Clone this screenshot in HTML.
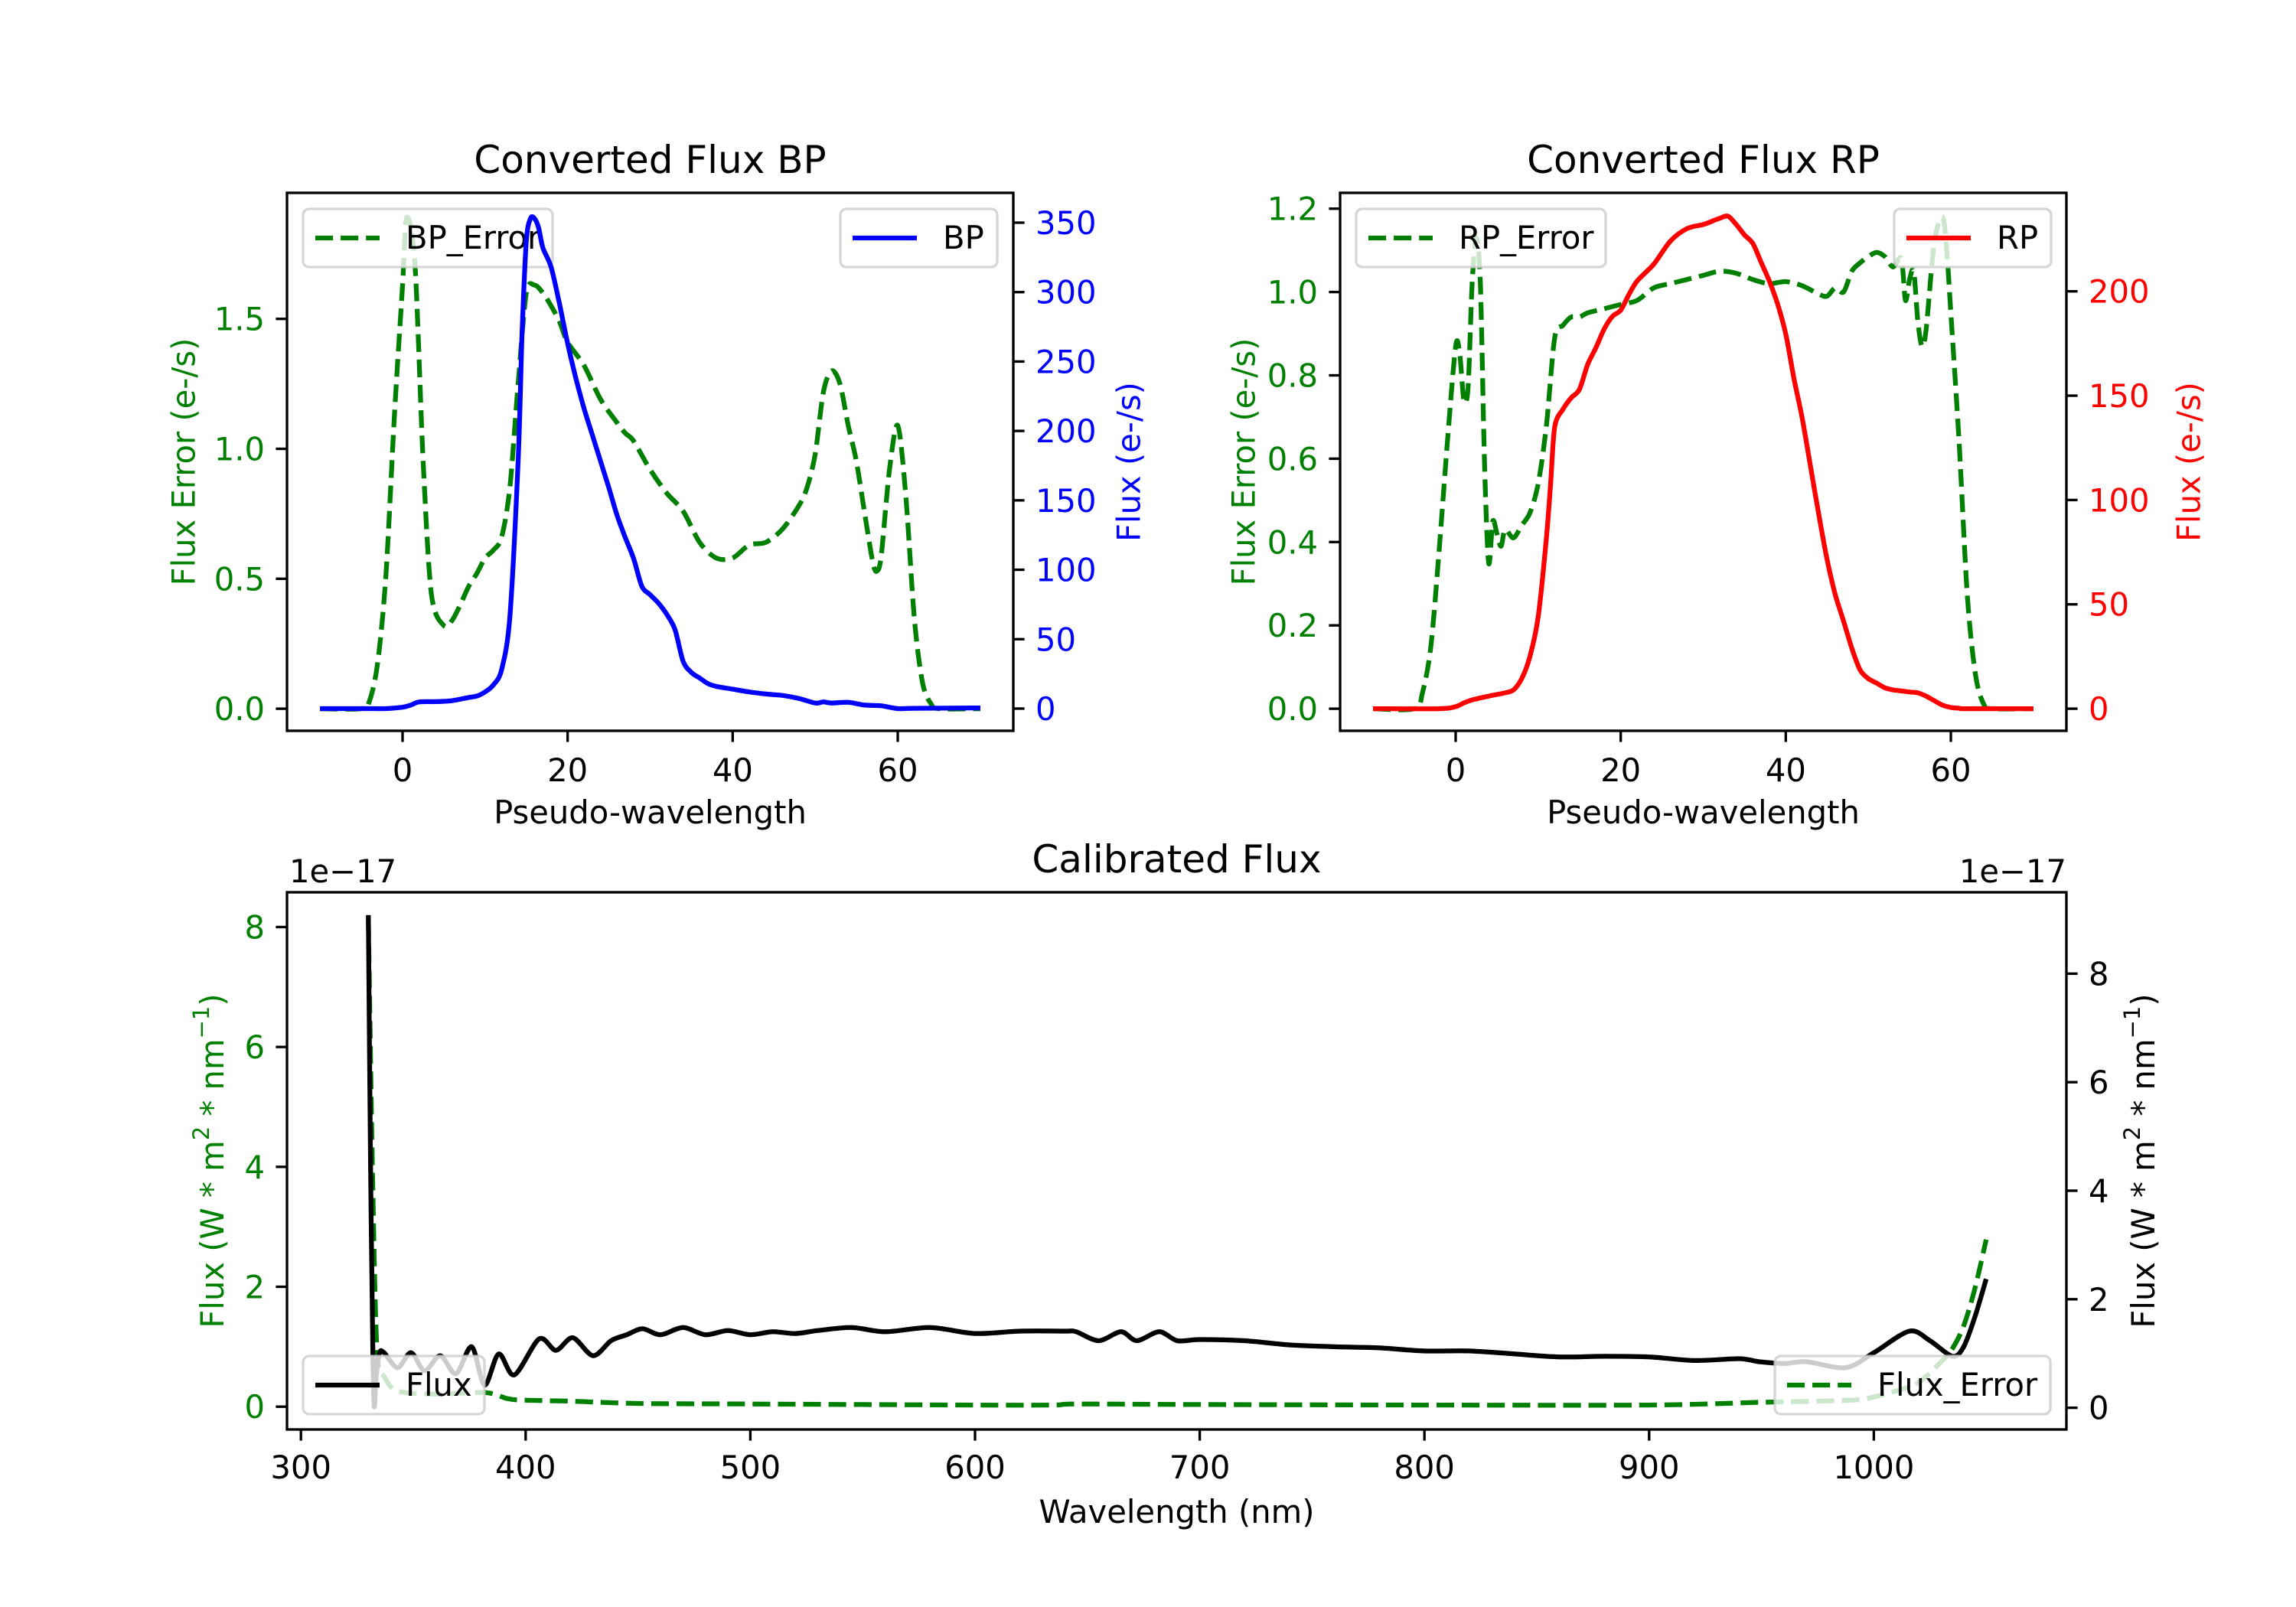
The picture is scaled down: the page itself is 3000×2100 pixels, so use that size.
<!DOCTYPE html>
<html><head><meta charset="utf-8"><style>
html,body{margin:0;padding:0;background:#fff;}
svg{display:block;font-family:"DejaVu Sans","Liberation Sans",sans-serif;}
</style></head><body>
<svg id="fig" xmlns="http://www.w3.org/2000/svg" width="3000" height="2100" viewBox="0 0 3000 2100">
<rect x="0" y="0" width="3000" height="2100" fill="#fff"/>
</svg>
<script>
// ---- BP panel data ----
const BP_ERR_X=[-10,-5,-4,-3,-2,-1,0,0.5,1.5,2.5,3.5,5,6,7,8,9,10,11,12,13,14,15,16,17,18,19,20,22,24,26,27,28,30,32,34,36,38,40,42,44,46,48,49,50,51,52,53,54,55,56,57,57.5,58,59,60,61,62,63,64,65,70];
const BP_ERR=[0,0,0.03,0.18,0.52,1.12,1.63,1.89,1.71,0.95,0.44,0.32,0.34,0.40,0.47,0.52,0.58,0.61,0.66,0.85,1.25,1.60,1.63,1.60,1.55,1.49,1.41,1.32,1.19,1.10,1.06,1.03,0.92,0.83,0.76,0.64,0.58,0.58,0.63,0.64,0.69,0.78,0.85,0.98,1.22,1.30,1.25,1.09,0.95,0.75,0.56,0.53,0.59,0.92,1.09,0.81,0.35,0.10,0.02,0,0];
const BP_FLUX_X=[-10,-8,-6,-4,-2,0,1,2,4,6,8,9,10,11,12,13,14,14.5,15,15.5,16,16.5,17,18,19,20,21,22,23,24,25,26,27,28,29,30,31,32,33,34,35,36,37,38,40,42,44,46,48,50,51,52,54,56,58,60,62,70];
const BP_FLUX=[0,0,0,0,0,1,2.5,4.8,5,5.7,8,9,12,17,28,66,178,273,337,353,353,346,332,318,292,263,238,216,197,178,159,139,123,108,88,82,76,68,57,34,26,22,18,16,14,12,10.5,9.5,7.3,4,4.8,4,4.5,2.5,2,0,0.2,0.5];
// ---- RP panel data ----
const RP_ERR_X=[-10,-5,-4,-3,-2,-1,0,0.5,1,1.5,2,2.5,3,3.5,4,4.5,5,5.5,6,7,8,9,10,11,12,13,14,15,16,18,20,22,24,26,28,30,32,34,36,38,40,42,44,45,46,47,48,49,50,51,52,53,54,54.5,55,55.5,56,56.5,57,58,59,59.5,60,61,62,63,64,65,70];
const RP_ERR=[0,0,0.04,0.15,0.38,0.64,0.87,0.85,0.74,0.77,1.02,1.13,1.02,0.59,0.35,0.45,0.42,0.39,0.43,0.41,0.44,0.47,0.54,0.68,0.89,0.92,0.94,0.94,0.95,0.96,0.97,0.98,1.01,1.02,1.03,1.04,1.05,1.045,1.03,1.02,1.025,1.015,0.995,0.99,1.01,1.0,1.05,1.07,1.085,1.095,1.085,1.06,1.08,0.98,1.03,1.05,0.93,0.87,0.91,1.12,1.18,1.1,0.95,0.64,0.27,0.08,0.01,0,0];
const RP_FLUX_X=[-10,-2,0,1,2,4,6,7,8,9,10,11,11.5,12,13,14,15,16,17,18,19,20,21,22,24,26,28,30,31,32,33,34,35,36,37,38,39,40,41,42,43,44,45,46,47,48,49,50,51,52,53,54,55,56,57,58,59,60,61,62,70];
const RP_FLUX=[0,0,1,2.8,4.2,6,7.6,9,14.4,25,44,82,107.5,135,143.5,149,153,165,173,182,188,191,198.5,205,213,224,230,232,233.5,235,236,232,227,223,214,205,194,179.5,158,139,116,93,71.5,54.6,42,29,18.6,14.4,12.3,10,9,8.5,8,7.6,6,3.8,1.7,0.6,0.2,0,0];
// ---- Calibrated panel data (units 1e-17) ----
const CAL_FLUX_X=[330,331,332,332.6,333.5,335,337,343,349,355,362,369,376,381.7,388,395,406,413.5,421,430,438,445,452,460,470,480,490,500,510,520,530,545,560,580,600,620,640,645,655,665,672,682,690,700,720,740,760,780,800,820,840,860,880,900,920,940,949,960,970,987.5,1000,1015.8,1025,1035,1040,1045,1050];
const CAL_FLUX=[8.2,4.0,0.9,0.0,0.5,0.9,0.9,0.65,0.9,0.6,0.85,0.55,1.0,0.36,0.88,0.53,1.13,0.94,1.15,0.85,1.1,1.2,1.3,1.2,1.32,1.2,1.27,1.2,1.25,1.22,1.27,1.32,1.25,1.32,1.22,1.26,1.26,1.25,1.1,1.25,1.1,1.25,1.1,1.12,1.1,1.03,1.0,0.98,0.93,0.93,0.88,0.83,0.84,0.83,0.77,0.8,0.75,0.72,0.75,0.65,0.9,1.26,1.1,0.84,1.0,1.5,2.13];
const CAL_ERR_X=[330,332,333.9,337.3,343,360,382,391.8,398.6,421,450,500,600,635,645,700,800,900,949,990,1000,1010,1020,1030,1035,1040,1045,1050];
const CAL_ERR=[9.0,4.0,1.03,0.56,0.31,0.25,0.28,0.17,0.14,0.12,0.08,0.07,0.05,0.05,0.07,0.06,0.05,0.05,0.1,0.14,0.2,0.31,0.47,0.85,1.09,1.51,2.2,3.1];
// ---- ticks ----
const PW_TICKS=[0,20,40,60];
const BP_L_TICKS=[0,0.5,1,1.5];
const BP_L_LABELS=["0.0","0.5","1.0","1.5"];
const BP_R_TICKS=[0,50,100,150,200,250,300,350];
const RP_L_TICKS=[0,0.2,0.4,0.6,0.8,1.0,1.2];
const RP_L_LABELS=["0.0","0.2","0.4","0.6","0.8","1.0","1.2"];
const RP_R_TICKS=[0,50,100,150,200];
const CAL_X_TICKS=[300,400,500,600,700,800,900,1000];
const CAL_Y_TICKS=[0,2,4,6,8];

const NS="http://www.w3.org/2000/svg";
const svg=document.getElementById('fig');
function el(tag,parent){const e=document.createElementNS(NS,tag);(parent||svg).appendChild(e);return e;}
function setA(e,o){for(const k in o)e.setAttribute(k,o[k]);return e;}
const FS=41.7, GREEN="#008000";
function makeAxes(a){
  a.sx=v=>a.x0+(v-a.xr[0])/(a.xr[1]-a.xr[0])*(a.x1-a.x0);
  a.syl=v=>a.y1-(v-a.yl[0])/(a.yl[1]-a.yl[0])*(a.y1-a.y0);
  a.syr=v=>a.y1-(v-a.yr[0])/(a.yr[1]-a.yr[0])*(a.y1-a.y0);
  const cp=el('clipPath');cp.setAttribute('id','clip-'+a.id);
  const r=el('rect',cp);setA(r,{x:a.x0,y:a.y0,width:a.x1-a.x0,height:a.y1-a.y0});
  return a;
}
function text(str,x,y,opts,name){
  const t=el('text');t.textContent=str;
  setA(t,{x:x,y:y,'font-size':opts.fs||FS,fill:opts.fill||'#000','text-anchor':opts.anchor||'start'});
  if(opts.rot)t.setAttribute('transform','rotate(-90 '+x+' '+y+')');
  if(opts.baseline)t.setAttribute('dominant-baseline',opts.baseline);
  
  
  return t;
}
function line(a,xs,ys,scaleY,color,dashed,name){
  const p=el('path');
  const P=xs.map((x,i)=>[a.sx(x),scaleY(ys[i])]);
  let d='M'+P[0][0].toFixed(1)+','+P[0][1].toFixed(1);
  for(let i=0;i<P.length-1;i++){
    const p0=P[Math.max(0,i-1)],p1=P[i],p2=P[i+1],p3=P[Math.min(P.length-1,i+2)];
    const t=0.15;
    const c1=[p1[0]+(p2[0]-p0[0])*t,p1[1]+(p2[1]-p0[1])*t];
    const c2=[p2[0]-(p3[0]-p1[0])*t,p2[1]-(p3[1]-p1[1])*t];
    d+='C'+c1[0].toFixed(1)+','+c1[1].toFixed(1)+' '+c2[0].toFixed(1)+','+c2[1].toFixed(1)+' '+p2[0].toFixed(1)+','+p2[1].toFixed(1);
  }
  setA(p,{d:d,fill:'none',stroke:color,'stroke-width':6.25,'stroke-linejoin':'round','clip-path':'url(#clip-'+a.id+')'});
  if(dashed)p.setAttribute('stroke-dasharray','23.1 10');
  
  
}
function xTicks(a,ticks,ly){
  ticks.forEach(v=>{
    const x=a.sx(v);
    const t=el('line');setA(t,{x1:x,x2:x,y1:a.y1,y2:a.y1+14.6,stroke:'#000','stroke-width':3.33});
    
    
    text(String(v),x,a.y1+ly,{anchor:'middle'},'x-tick-label');
  });
}
function yTicks(a,ticks,labels,side,color){
  const sc=side==='l'?a.syl:a.syr;
  ticks.forEach((v,i)=>{
    const y=sc(v);
    const xa=side==='l'?a.x0:a.x1, xb=side==='l'?a.x0-14.6:a.x1+14.6;
    const t=el('line');setA(t,{x1:xa,x2:xb,y1:y,y2:y,stroke:'#000','stroke-width':3.33});
    
    
    const lab=labels?labels[i]:String(v);
    text(lab,side==='l'?a.x0-29:a.x1+29,y+15,{anchor:side==='l'?'end':'start',fill:color},side==='l'?'left-y-tick-label':'right-y-tick-label');
  });
}
function frame(a){
  const r=el('rect');setA(r,{x:a.x0,y:a.y0,width:a.x1-a.x0,height:a.y1-a.y0,fill:'none',stroke:'#000','stroke-width':3.33});
  
  
}
function legend(bx,by,w,label,color,dashed,name){
  const g=el('g');
  
  
  const r=el('rect',g);setA(r,{x:bx,y:by,width:w,height:76,rx:8,fill:'#fff','fill-opacity':0.8,stroke:'#cccccc','stroke-width':3.33,'stroke-opacity':0.8});
  const l=el('line',g);setA(l,{x1:bx+16,x2:bx+100,y1:by+38,y2:by+38,stroke:color,'stroke-width':6.25});
  if(dashed)l.setAttribute('stroke-dasharray','23.1 10');
  
  
  const t=el('text',g);t.textContent=label;setA(t,{x:bx+134,y:by+52,'font-size':FS,fill:'#000'});
  
  
}

// ===== BP panel =====
const bp=makeAxes({id:'bp',x0:375,x1:1324,y0:252,y1:955,xr:[-14,74],yl:[-0.085,1.985],yr:[-16,371.5]});
line(bp,BP_ERR_X,BP_ERR,bp.syl,GREEN,true,'bp-error-line');
legend(396,273,326,'BP_Error',GREEN,true,'legend-bp-error');
line(bp,BP_FLUX_X,BP_FLUX,bp.syr,'#0000ff',false,'bp-flux-line');
legend(1098,273,205,'BP','#0000ff',false,'legend-bp');
frame(bp);
xTicks(bp,PW_TICKS,66);
yTicks(bp,BP_L_TICKS,BP_L_LABELS,'l',GREEN);
yTicks(bp,BP_R_TICKS,null,'r','#0000ff');
text('Converted Flux BP',(bp.x0+bp.x1)/2,226,{anchor:'middle',fs:50},'bp-title');
text('Pseudo-wavelength',(bp.x0+bp.x1)/2,1076,{anchor:'middle'},'bp-x-axis-title');
text('Flux Error (e-/s)',240,(bp.y0+bp.y1)/2,{anchor:'middle',rot:true,fill:GREEN,baseline:'central'},'bp-left-y-axis-title');
text('Flux (e-/s)',1475,(bp.y0+bp.y1)/2,{anchor:'middle',rot:true,fill:'#0000ff',baseline:'central'},'bp-right-y-axis-title');

// ===== RP panel =====
const rp=makeAxes({id:'rp',x0:1751,x1:2700,y0:252,y1:955,xr:[-14,74],yl:[-0.053,1.238],yr:[-10.6,247.2]});
line(rp,RP_ERR_X,RP_ERR,rp.syl,GREEN,true,'rp-error-line');
legend(1772,273,326,'RP_Error',GREEN,true,'legend-rp-error');
line(rp,RP_FLUX_X,RP_FLUX,rp.syr,'#ff0000',false,'rp-flux-line');
legend(2475,273,205,'RP','#ff0000',false,'legend-rp');
frame(rp);
xTicks(rp,PW_TICKS,66);
yTicks(rp,RP_L_TICKS,RP_L_LABELS,'l',GREEN);
yTicks(rp,RP_R_TICKS,null,'r','#ff0000');
text('Converted Flux RP',(rp.x0+rp.x1)/2,226,{anchor:'middle',fs:50},'rp-title');
text('Pseudo-wavelength',(rp.x0+rp.x1)/2,1076,{anchor:'middle'},'rp-x-axis-title');
text('Flux Error (e-/s)',1625,(rp.y0+rp.y1)/2,{anchor:'middle',rot:true,fill:GREEN,baseline:'central'},'rp-left-y-axis-title');
text('Flux (e-/s)',2860,(rp.y0+rp.y1)/2,{anchor:'middle',rot:true,fill:'#ff0000',baseline:'central'},'rp-right-y-axis-title');

// ===== Calibrated panel =====
const cal=makeAxes({id:'cal',x0:375,x1:2700,y0:1166,y1:1868,xr:[293.8,1085.7],yl:[-0.38,8.58],yr:[-0.4,9.5]});
line(cal,CAL_ERR_X,CAL_ERR,cal.syr,GREEN,true,'calibrated-error-line');
line(cal,CAL_FLUX_X,CAL_FLUX,cal.syl,'#000',false,'calibrated-flux-line');
legend(396,1772,237,'Flux','#000',false,'legend-flux');
legend(2319,1772,360,'Flux_Error',GREEN,true,'legend-flux-error');
frame(cal);
xTicks(cal,CAL_X_TICKS,64);
yTicks(cal,CAL_Y_TICKS,null,'l',GREEN);
yTicks(cal,CAL_Y_TICKS,null,'r','#000');
text('Calibrated Flux',(cal.x0+cal.x1)/2,1140,{anchor:'middle',fs:50},'calibrated-title');
text('1e\u221217',378,1153,{},'left-offset-text');
text('1e\u221217',2700,1153,{anchor:'end'},'right-offset-text');
text('Wavelength (nm)',(cal.x0+cal.x1)/2,1990,{anchor:'middle'},'calibrated-x-axis-title');
function unitLabel(x,color,name){
  const t=el('text');
  setA(t,{x:x,y:(cal.y0+cal.y1)/2,'font-size':FS,fill:color,'text-anchor':'middle','dominant-baseline':'central',transform:'rotate(-90 '+x+' '+((cal.y0+cal.y1)/2)+')'});
  
  
  const parts=[['Flux (W * m',0],['2',1],[' * nm',0],['\u22121',1],[')',0]];
  parts.forEach(p=>{const s=el('tspan',t);s.textContent=p[0];if(p[1]){s.setAttribute('font-size',29);s.setAttribute('dy',-14);}else s.setAttribute('dy',0);});
  const sp=t.querySelectorAll('tspan');sp[2].setAttribute('dy',14);sp[4].setAttribute('dy',14);
}
unitLabel(277,GREEN,'calibrated-left-y-axis-title');
unitLabel(2800,'#000','calibrated-right-y-axis-title');
</script>
</body></html>
